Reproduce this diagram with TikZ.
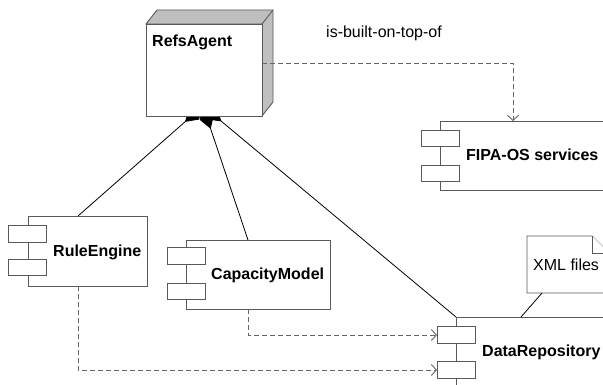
\documentclass[tikz,border=0pt]{standalone}
\usepackage{fontspec}
\setmainfont{Liberation Sans}
\usetikzlibrary{arrows.meta,calc}
\pgfdeclarelayer{bg}
\pgfsetlayers{bg,main}
\begin{document}
\begin{tikzpicture}[x=1pt,y=-1pt,
  box/.style={draw=black!65,line width=0.9pt,fill=white,inner sep=0pt,outer sep=0pt},
  port/.style={box,minimum width=38pt,minimum height=16.5pt},
  lbl/.style={font=\fontsize{16}{16}\selectfont\bfseries,inner sep=0pt},
  rel/.style={font=\fontsize{16}{16}\selectfont,inner sep=0pt},
  agg/.style={draw=black,line width=0.8pt,{Diamond[length=24pt,width=15pt,fill=black]}-},
  dep/.style={draw=black!60,line width=0.9pt,dash pattern=on 5pt off 3pt,-{Straight Barb[length=5pt,width=11pt,line width=0.9pt]}},
  ]
\useasboundingbox (0,0) rectangle (603,385);
\clip (0,0) rectangle (603,385);
% RefsAgent
\draw[box,fill=black!25] (146,24) -- (157,10) -- (273,10) -- (273,102) -- (262,116) -- (262,24) -- cycle;
\draw[box] (262,24) -- (273,10);
\node[box,minimum width=116pt,minimum height=92pt] (ra) at (204,70) {};
\node[lbl,anchor=west] (ratext) at (152,42) {RefsAgent};
% FIPA-OS services
\node[box,minimum width=220pt,minimum height=69pt] (fipa) at (550,155.5) {};
\node[port] (fipa1) at (440,138.5) {};
\node[port] (fipa2) at (440,173.5) {};
\node[lbl,anchor=west] (fipatext) at (466,155) {FIPA-OS services};
% RuleEngine
\node[box,minimum width=119pt,minimum height=70pt] (re) at (87.5,251) {};
\node[port] (re1) at (27.5,234) {};
\node[port] (re2) at (27.5,267.5) {};
\node[lbl,anchor=west] (retext) at (53,252) {RuleEngine};
% CapacityModel
\node[box,minimum width=144pt,minimum height=69pt] (cm) at (258,274.5) {};
\node[port] (cm1) at (186,256) {};
\node[port] (cm2) at (186,291.5) {};
\node[lbl,anchor=west] (cmtext) at (211,275) {CapacityModel};
% DataRepository
\node[box,minimum width=250pt,minimum height=100pt] (dr) at (581,367) {};
\node[port] (dr1) at (456,335) {};
\node[port] (dr2) at (456,370) {};
\node[lbl,anchor=west] (drtext) at (482,352.5) {DataRepository};
% XML files note
\draw[box] (527,236) -- (592,236) -- (612,256) -- (612,293) -- (527,293) -- cycle;
\draw[box] (592,236) -- (592,253) -- (609,253);
\node[rel,anchor=west] (xml) at (533,265) {XML files};
\coordinate (xmlfoot) at (542,293);
\coordinate (drtop) at (521,317);
\draw[black,line width=0.8pt] (xmlfoot) -- (drtop);
% aggregation links (diamonds partly hidden behind the RefsAgent box)
\coordinate (a0) at ($(ra.south)+(-1,-10)$);
\begin{pgfonlayer}{bg}
\draw[agg] (a0) -- ($(re.north)+(-9.5,0)$);
\draw[agg] (a0) -- ($(cm.north)+(-10,0)$);
\draw[agg] (a0) -- (dr.north west);
\end{pgfonlayer}
% dependencies
\draw[dep] (ra.east |- 0,63) -- (513,63) -- (fipa.north -| 513,0);
\node[rel,anchor=west] (bot) at (326,33) {is-built-on-top-of};
\draw[dep] ($(cm.south)+(-10,0)$) |- (dr1.west);
\draw[dep] ($(re.south)+(-9.5,0)$) |- (dr2.west);
\end{tikzpicture}
\end{document}
